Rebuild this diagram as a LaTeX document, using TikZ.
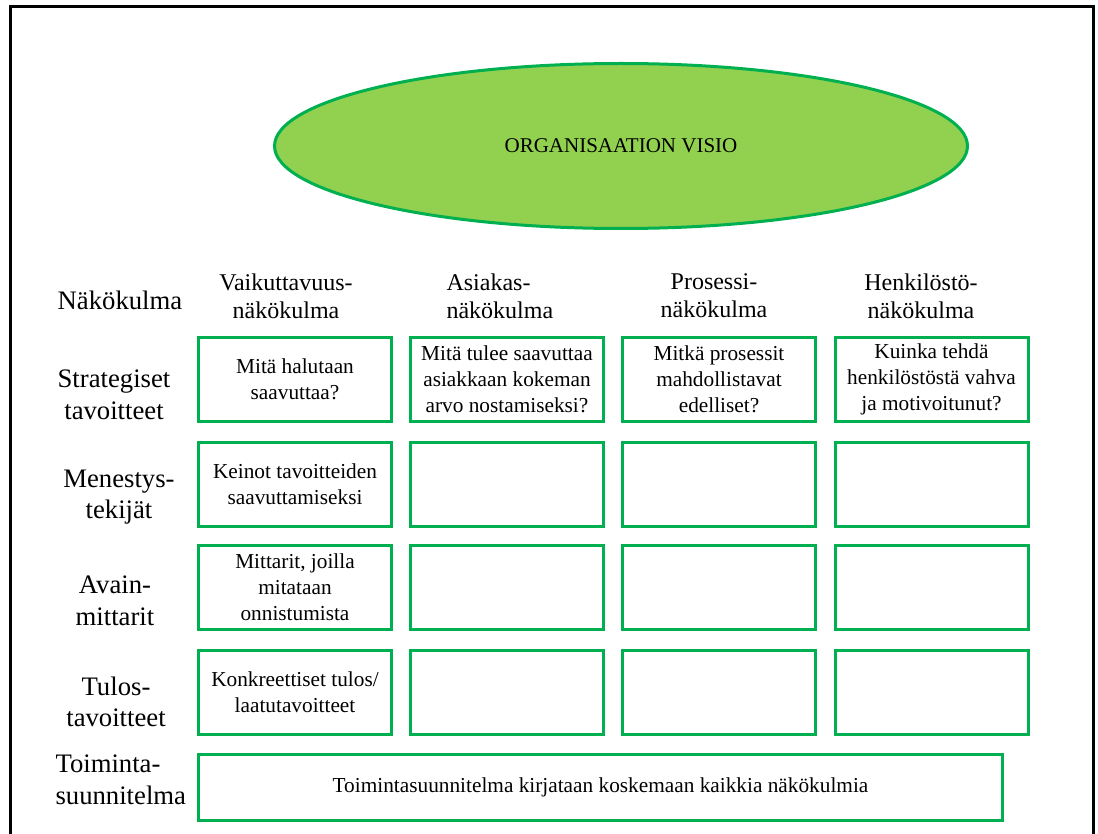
\documentclass[tikz,border=0pt]{standalone}
\usepackage{fontspec}
\setmainfont{Liberation Serif}
\usepackage{tikz}
\usetikzlibrary{shapes.geometric}

\definecolor{vihrea}{HTML}{00B050}
\definecolor{vaalea}{HTML}{92D050}

\tikzset{
	ruutu/.style={draw=vihrea, line width=3pt, minimum width=193pt, minimum height=84pt, align=center, font=\fontsize{21.3}{26}\selectfont},
	rivi/.style={align=center, font=\fontsize{26.7}{31.5}\selectfont},
	sarake/.style={align=center, font=\fontsize{24}{28}\selectfont}
}

\begin{document}
\begin{tikzpicture}[x=1pt,y=-1pt]
	\useasboundingbox (0,0) rectangle (1098,834);
	\draw[line width=3pt] (10,840)--(10,7)--(1093,7)--(1093,840);

	\node[ellipse, draw=vihrea, fill=vaalea, line width=3pt, minimum width=693pt, minimum height=165pt, font=\fontsize{21}{25}\selectfont] (visio) at (621,146) {ORGANISAATION VISIO};

	% rivien otsikot
	\node[rivi] (nakokulma) at (120,300) {Näkökulma};
	\node[rivi] (strategiset) at (114,395) {Strategiset\\tavoitteet};
	\node[rivi] (menestys) at (119,497) {Menestys-\\tekijät};
	\node[rivi] (avain) at (115,601) {Avain-\\mittarit};
	\node[rivi] (tulos) at (116,702) {Tulos-\\tavoitteet};
	\node[rivi, align=left, anchor=west] (toiminta) at (52,780) {Toiminta-\\suunnitelma};

	% sarakkeiden otsikot
	\node[sarake] (vaikuttavuus) at (286,296) {Vaikuttavuus-\\näkökulma};
	\node[sarake, align=left, anchor=west] (asiakas) at (443,296) {Asiakas-\\näkökulma};
	\node[sarake] (prosessi) at (714,296) {Prosessi-\\näkökulma};
	\node[sarake] (henkilosto) at (921,296) {Henkilöstö-\\näkökulma};

	% strategiset tavoitteet
	\node[ruutu] (s1) at (295,379.5) {Mitä halutaan\\saavuttaa?};
	\node[ruutu] (s2) at (507,379.5) {Mitä tulee saavuttaa\\asiakkaan kokeman\\arvo nostamiseksi?};
	\node[ruutu] (s3) at (719,379.5) {Mitkä prosessit\\mahdollistavat\\edelliset?};
	\node[ruutu] (s4) at (931.5,379.5) {Kuinka tehdä\\henkilöstöstä vahva\\ja motivoitunut?};

	% menestystekijät
	\node[ruutu] (m1) at (295,484) {Keinot tavoitteiden\\saavuttamiseksi};
	\node[ruutu] (m2) at (507,484) {};
	\node[ruutu] (m3) at (719,484) {};
	\node[ruutu] (m4) at (931.5,484) {};

	% avainmittarit
	\node[ruutu] (a1) at (295,587.5) {Mittarit, joilla\\mitataan\\onnistumista};
	\node[ruutu] (a2) at (507,587.5) {};
	\node[ruutu] (a3) at (719,587.5) {};
	\node[ruutu] (a4) at (931.5,587.5) {};

	% tulostavoitteet
	\node[ruutu] (t1) at (295,692) {Konkreettiset tulos/\\laatutavoitteet};
	\node[ruutu] (t2) at (507,692) {};
	\node[ruutu] (t3) at (719,692) {};
	\node[ruutu] (t4) at (931.5,692) {};

	\node[ruutu, minimum width=804pt, minimum height=66pt] (suunnitelma) at (600.5,787.5) {Toimintasuunnitelma kirjataan koskemaan kaikkia näkökulmia};
\end{tikzpicture}
\end{document}
